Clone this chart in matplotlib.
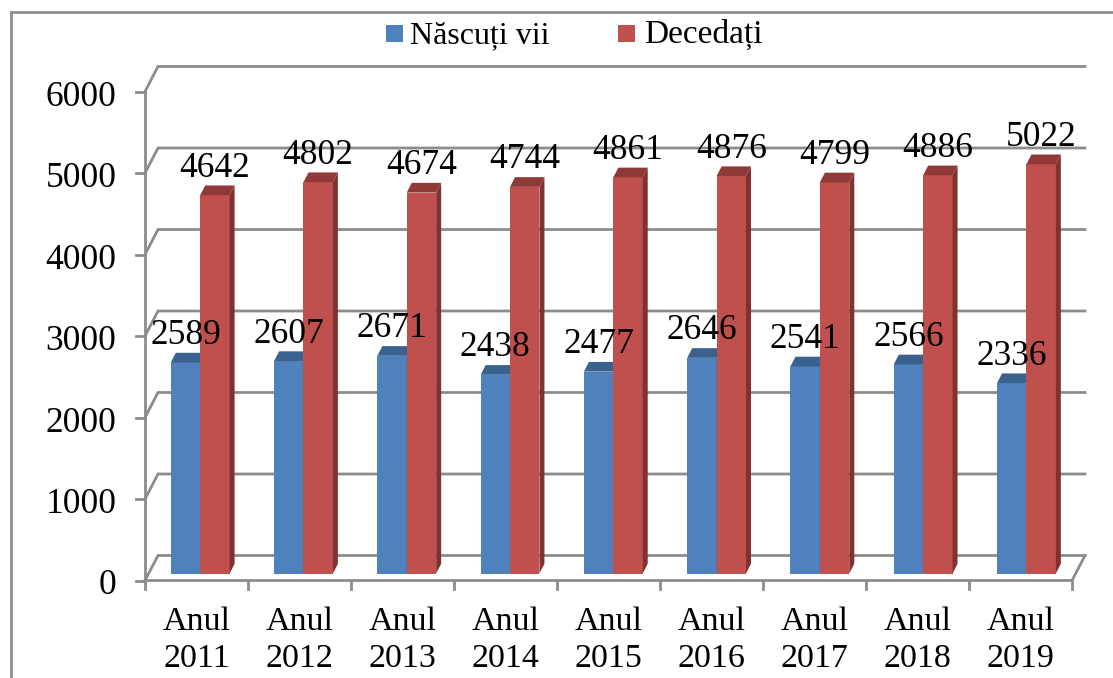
import matplotlib
matplotlib.use('Agg')
import matplotlib.pyplot as plt
from matplotlib.patches import Polygon, Rectangle
from matplotlib.transforms import ScaledTranslation

categories = ['Anul\n2011', 'Anul\n2012', 'Anul\n2013', 'Anul\n2014', 'Anul\n2015',
              'Anul\n2016', 'Anul\n2017', 'Anul\n2018', 'Anul\n2019']
nascuti = [2589, 2607, 2671, 2438, 2477, 2646, 2541, 2566, 2336]
decedati = [4642, 4802, 4674, 4744, 4861, 4876, 4799, 4886, 5022]
y_ticks = [0, 1000, 2000, 3000, 4000, 5000, 6000]

W, H = 1113, 678
plt.rcParams['font.family'] = ['Liberation Serif', 'DejaVu Serif']
fig = plt.figure(figsize=(W / 100, H / 100), dpi=100)

# axes rectangle = front plane of the fake 3D box
left, right, y0, y6 = 145, 1072, 580.5, 91.5
ax = fig.add_axes([left / W, 1 - y0 / H, (right - left) / W, (y0 - y6) / H])
ax.set_xlim(0, 9)
ax.set_ylim(0, 6000)
ax.patch.set_alpha(0)
for s in ax.spines.values():
    s.set_visible(False)

px = 9 / (right - left)      # one pixel in x data units
py = 6000 / (y0 - y6)        # one pixel in y data units
grey = '#8c8c8c'

# outer frame
fig.add_artist(Rectangle((11 / W, -0.01), (W + 20) / W, 1 - 12 / H + 0.01, fill=False,
                         edgecolor='#8f8f8f', linewidth=2, transform=fig.transFigure))

# back wall gridlines and the slanted bits on the left
wall_dx, wall_dy = 13 * px, 25 * py
for v in y_ticks:
    ax.plot([0, wall_dx, 9 + wall_dx], [v, v + wall_dy, v + wall_dy], color=grey, lw=2,
            clip_on=False, zorder=1, solid_joinstyle='miter')
ax.plot([0, 9, 9 + wall_dx], [0, 0, wall_dy], color=grey, lw=2, clip_on=False, zorder=1)
ax.plot([0, 0], [0, 6000], color=grey, lw=2, clip_on=False, zorder=1)

# tick marks
for v in y_ticks:
    ax.plot([-9 * px, 0], [v, v], color=grey, lw=2, clip_on=False, zorder=1)
for i in range(10):
    ax.plot([i, i], [0, -8 * py], color=grey, lw=2, clip_on=False, zorder=1)

# bars: front face, then side and top
bar_w = 29.4 * px
base = 7 * py
shift = 3.7 * px
step = 103.28 * px    # bars sit a touch wider apart than the ticks
depth_x, depth_y = 5 * px, 9.7 * py


def draw_bars(xs, vals, col, col_top, col_side, z):
    ax.bar(xs, vals, width=bar_w, bottom=base, color=col, zorder=z, linewidth=0, clip_on=False)
    for x, v in zip(xs, vals):
        xl, xr = x - bar_w / 2, x + bar_w / 2
        t = v + base
        ax.add_patch(Polygon([(xr, base), (xr + depth_x, base + depth_y),
                              (xr + depth_x, t + depth_y), (xr, t)],
                             facecolor=col_side, edgecolor='none', zorder=z, clip_on=False))
        ax.add_patch(Polygon([(xl, t), (xl + depth_x, t + depth_y),
                              (xr + depth_x, t + depth_y), (xr, t)],
                             facecolor=col_top, edgecolor='none', zorder=z, clip_on=False))
        ax.annotate(str(v), (x, t), xytext=(0, 27), textcoords='offset pixels', ha='center',
                    va='center', fontsize=25.5, color='black', zorder=10, annotation_clip=False)


centers = [0.5 + shift + i * step for i in range(len(categories))]
draw_bars([c - bar_w / 2 for c in centers], nascuti, '#4f81bd', '#3b618f', '#3a5f8b', 3)
draw_bars([c + bar_w / 2 for c in centers], decedati, '#c0504d', '#8f3a38', '#7f3230', 4)

ax.set_xticks([i + 0.5 for i in range(len(categories))])
ax.set_xticklabels(categories, fontsize=24.5, linespacing=1.25)
ax.set_yticks(y_ticks)
ax.set_yticklabels([str(v) for v in y_ticks], fontsize=25.5)
ax.tick_params(axis='x', length=0, pad=19)
ax.tick_params(axis='y', length=0, pad=20.5)
for lab in ax.get_yticklabels():
    lab.set_transform(lab.get_transform() + ScaledTranslation(0, -1.5 / 100, fig.dpi_scale_trans))

# legend, placed by hand like the original
fig.add_artist(Rectangle((386 / W, 1 - 42 / H), 17 / W, 17 / H, facecolor='#4f81bd',
                         edgecolor='none', transform=fig.transFigure))
fig.add_artist(Rectangle((618 / W, 1 - 42 / H), 17 / W, 17 / H, facecolor='#c0504d',
                         edgecolor='none', transform=fig.transFigure))
fig.text(410 / W, 1 - 43 / H, 'Născuți vii', fontsize=23, va='baseline', ha='left')
fig.text(644 / W, 1 - 43 / H, 'Decedați', fontsize=24, va='baseline', ha='left')

fig.savefig('out.png', dpi=100)
